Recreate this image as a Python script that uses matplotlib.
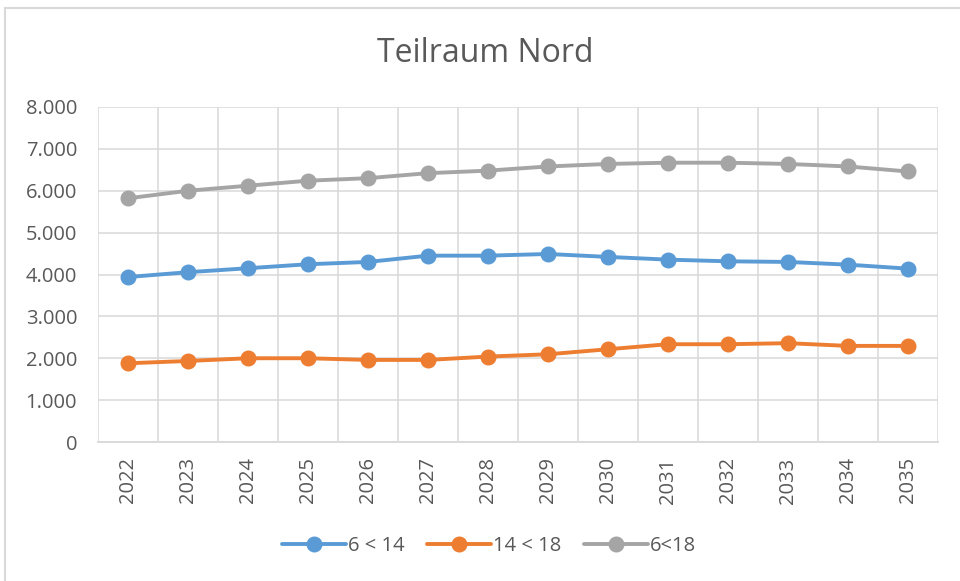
import matplotlib
matplotlib.use("Agg")
import matplotlib.pyplot as plt
from matplotlib.lines import Line2D
from matplotlib.ticker import FuncFormatter, MultipleLocator

years = [2022, 2023, 2024, 2025, 2026, 2027, 2028, 2029, 2030, 2031, 2032, 2033, 2034, 2035]
series_names = ["6 < 14", "14 < 18", "6<18"]
vals_6_14 = [3940, 4055, 4150, 4245, 4300, 4450, 4450, 4490, 4420, 4355, 4315, 4300, 4235, 4140]
vals_14_18 = [1880, 1935, 2000, 2000, 1960, 1960, 2040, 2095, 2215, 2335, 2335, 2360, 2295, 2295]
vals_6_18 = [5820, 6000, 6120, 6240, 6300, 6420, 6480, 6580, 6640, 6670, 6670, 6640, 6580, 6460]
colors = ["#5B9BD5", "#ED7D31", "#A5A5A5"]

plt.rcParams['font.family'] = ['Open Sans', 'DejaVu Sans']
txt = "#595959"
grid_c = "#D9D9D9"

fig = plt.figure(figsize=(9.6, 5.81), dpi=100)
W, H = 960, 581
# outer chart frame (top and left edges visible)
fig.add_artist(Line2D([5 / W, 1], [1 - 8 / H, 1 - 8 / H], color=grid_c, lw=1.5))
fig.add_artist(Line2D([5 / W, 5 / W], [0, 1 - 8 / H], color=grid_c, lw=1.5))

ax = fig.add_axes([98 / W, 1 - 442 / H, (938 - 98) / W, (442 - 107) / H])
x = list(range(len(years)))
for vals, c, name in zip([vals_6_14, vals_14_18, vals_6_18], colors, series_names):
    ax.plot(x, vals, color=c, lw=2.8, marker='o', markersize=10.5, label=name,
            solid_capstyle='round', zorder=3)

ax.set_xlim(-0.5, len(years) - 0.5)
ax.set_ylim(0, 8000)
ax.yaxis.set_major_locator(MultipleLocator(1000))
ax.yaxis.set_major_formatter(FuncFormatter(lambda v, p: f"{int(v):,}".replace(",", ".")))
ax.set_xticks(x)
ax.set_xticklabels([str(y) for y in years], rotation=90)
ax.set_xticks([i - 0.5 for i in range(len(years) + 1)], minor=True)
ax.grid(axis='y', which='major', color=grid_c, lw=1.1)
ax.grid(axis='x', which='minor', color=grid_c, lw=1.1)
ax.set_axisbelow(True)
for s in ['top', 'right', 'left']:
    ax.spines[s].set_visible(False)
ax.spines['bottom'].set_color(grid_c)
ax.spines['bottom'].set_linewidth(1.3)
ax.tick_params(axis='both', which='both', length=0, colors=txt, labelsize=14.5)
ax.tick_params(axis='x', pad=11)
ax.tick_params(axis='y', pad=15)

fig.text(485 / W, 1 - 53 / H, "Teilraum Nord", ha='center', va='center', fontsize=23, color=txt)

leg = fig.legend(loc='center', bbox_to_anchor=(489 / W, 1 - 546 / H), ncol=3, frameon=False,
                 fontsize=14.5, handlelength=3.2, columnspacing=1.1, handletextpad=0.1,
                 labelcolor=txt)

fig.savefig("out.png", dpi=100)
